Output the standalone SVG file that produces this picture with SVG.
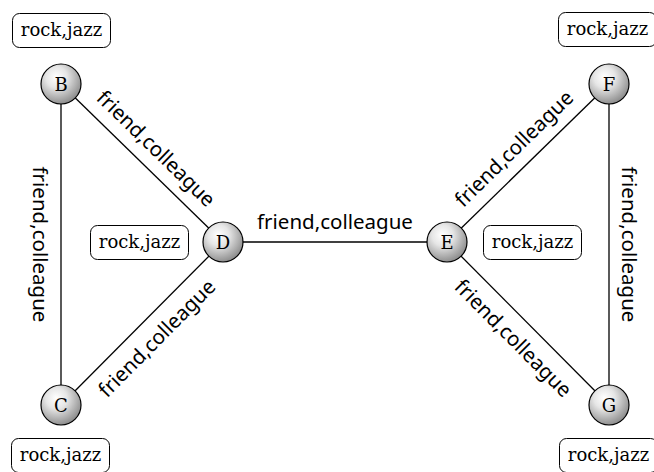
<svg xmlns="http://www.w3.org/2000/svg" width="654" height="472" viewBox="0 0 654 472">
<defs>
<radialGradient id="ball" cx="0.4" cy="0.35" r="0.75" fx="0.38" fy="0.32">
<stop offset="0" stop-color="#ffffff"/>
<stop offset="0.35" stop-color="#e6e6e6"/>
<stop offset="1" stop-color="#7a7a7a"/>
</radialGradient>
</defs>
<style>
.edge{stroke:#000;stroke-width:1.3;fill:none}
.elab{font-family:"Noto Sans","DejaVu Sans",sans-serif;font-size:20.5px;fill:#000;text-anchor:middle}
.node circle{fill:url(#ball);stroke:#000;stroke-width:1.2}
.node text{font-family:"DejaVu Serif","Liberation Serif",serif;font-size:18px;text-anchor:middle;fill:#000}
.box rect{fill:#fff;stroke:#000;stroke-width:1}
.box text{font-family:"DejaVu Serif","Liberation Serif",serif;font-size:18px;text-anchor:middle;fill:#000}
</style>
<g id="connectors">
<line class="edge" x1="61" y1="84" x2="223" y2="242"/>
<line class="edge" x1="61" y1="84" x2="61" y2="405"/>
<line class="edge" x1="61" y1="405" x2="223" y2="242"/>
<line class="edge" x1="223" y1="242" x2="447" y2="242"/>
<line class="edge" x1="447" y1="242" x2="609" y2="84"/>
<line class="edge" x1="609" y1="84" x2="609" y2="405"/>
<line class="edge" x1="447" y1="242" x2="609" y2="405"/>
<text class="elab" transform="translate(142,163) rotate(44.3)" x="0" y="-13">friend,colleague</text>
<text class="elab" transform="translate(61,244.5) rotate(90)" x="0" y="28">friend,colleague</text>
<text class="elab" transform="translate(142,323.5) rotate(-45.2)" x="0" y="28">friend,colleague</text>
<text class="elab" transform="translate(335,242)" x="0" y="-13">friend,colleague</text>
<text class="elab" transform="translate(528,163) rotate(-44.3)" x="0" y="-13">friend,colleague</text>
<text class="elab" transform="translate(609,244.5) rotate(90)" x="0" y="-13">friend,colleague</text>
<text class="elab" transform="translate(528,323.5) rotate(45.2)" x="0" y="28">friend,colleague</text>
</g>
<g id="B" class="node"><circle cx="61" cy="84" r="20"/><text x="61" y="90.5">B</text></g>
<g id="C" class="node"><circle cx="61" cy="405" r="20"/><text x="61" y="411.5">C</text></g>
<g id="D" class="node"><circle cx="223" cy="242" r="20"/><text x="223" y="248.5">D</text></g>
<g id="E" class="node"><circle cx="447" cy="242" r="20"/><text x="447" y="248.5">E</text></g>
<g id="F" class="node"><circle cx="609" cy="84" r="20"/><text x="609" y="90.5">F</text></g>
<g id="G" class="node"><circle cx="609" cy="405" r="20"/><text x="609" y="411.5">G</text></g>
<g id="B-label" class="box"><rect x="12.5" y="13.5" width="98" height="34" rx="7"/><text x="61.5" y="35.5">rock,jazz</text></g>
<g id="C-label" class="box"><rect x="11.5" y="438.5" width="98" height="34" rx="7"/><text x="60.5" y="460.5">rock,jazz</text></g>
<g id="D-label" class="box"><rect x="90.5" y="225.5" width="98" height="34" rx="7"/><text x="139.5" y="247.5">rock,jazz</text></g>
<g id="E-label" class="box"><rect x="483.5" y="225.5" width="98" height="34" rx="7"/><text x="532.5" y="247.5">rock,jazz</text></g>
<g id="F-label" class="box"><rect x="558.5" y="12.5" width="98" height="34" rx="7"/><text x="607.5" y="34.5">rock,jazz</text></g>
<g id="G-label" class="box"><rect x="559.5" y="438.5" width="98" height="34" rx="7"/><text x="608.5" y="460.5">rock,jazz</text></g>
</svg>
